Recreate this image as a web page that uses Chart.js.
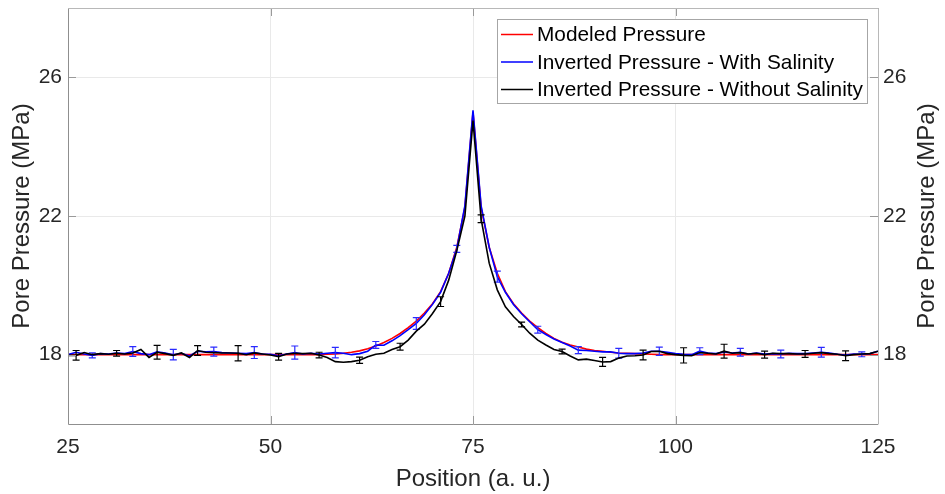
<!DOCTYPE html>
<html>
<head>
<meta charset="utf-8">
<script src="https://cdn.jsdelivr.net/npm/chart.js@4/dist/chart.umd.min.js"></script>
<style>
  html, body { margin: 0; padding: 0; background: #fff; }
  #wrap { width: 945px; height: 494px; }
</style>
</head>
<body>
<div id="wrap"><canvas id="c" width="945" height="494"></canvas></div>
<script>
// ---- Data ----
const positions = [25,26,27,28,29,30,31,32,33,34,35,36,37,38,39,40,41,42,43,44,45,46,47,48,49,50,
  51,52,53,54,55,56,57,58,59,60,61,62,63,64,65,66,67,68,69,70,71,72,73,74,75,
  76,77,78,79,80,81,82,83,84,85,86,87,88,89,90,91,92,93,94,95,96,97,98,99,100,
  101,102,103,104,105,106,107,108,109,110,111,112,113,114,115,116,117,118,119,120,121,122,123,124,125];

const modeledPressure = [18.00,18.00,18.00,18.00,18.00,18.00,18.00,18.00,18.00,18.00,18.00,18.00,18.00,18.00,18.00,18.00,18.00,18.00,18.00,18.00,18.00,18.00,18.00,18.00,18.00,18.00,
  18.00,18.00,18.00,18.00,18.00,18.00,18.01,18.02,18.04,18.07,18.11,18.17,18.25,18.35,18.47,18.61,18.78,18.97,19.20,19.47,19.82,20.35,21.10,22.25,25.00,
  22.25,21.10,20.35,19.82,19.47,19.20,18.97,18.78,18.61,18.47,18.36,18.28,18.22,18.16,18.12,18.10,18.07,18.05,18.04,18.03,18.02,18.01,18.00,18.00,18.00,
  18.00,18.00,18.00,18.00,18.00,18.00,18.00,18.00,18.00,18.00,18.00,18.00,18.00,18.00,18.00,18.00,18.00,18.00,18.00,18.00,18.00,18.00,18.00,18.00,18.00];

const withSalinity = [18.00,18.07,18.02,17.98,18.03,18.02,18.05,18.03,18.09,18.03,18.00,18.08,18.05,18.00,18.04,17.96,18.10,18.08,18.09,18.06,18.05,18.04,18.03,18.06,18.02,18.01,
  17.97,18.02,18.06,18.02,18.04,18.02,18.04,18.06,18.04,18.00,18.03,18.10,18.28,18.27,18.40,18.55,18.72,18.90,19.15,19.45,19.80,20.35,21.05,22.30,25.05,
  22.30,21.10,20.25,19.80,19.45,19.18,18.95,18.72,18.58,18.45,18.35,18.25,18.13,18.12,18.10,18.08,18.08,18.04,18.03,18.03,18.05,18.10,18.10,18.07,18.03,
  18.01,18.00,18.10,18.05,18.03,18.08,18.05,18.07,18.02,18.05,18.02,18.03,18.02,18.04,18.03,18.03,18.05,18.07,18.05,18.01,17.99,18.02,18.01,18.03,18.10];

const withoutSalinity = [17.98,17.98,18.06,18.00,18.03,18.01,18.04,18.02,18.05,18.15,17.92,18.07,18.03,17.98,18.05,17.92,18.12,18.07,18.06,18.05,18.05,18.04,18.00,18.05,18.02,17.99,
  17.94,18.02,18.04,18.03,18.04,17.99,17.92,17.80,17.78,17.80,17.84,17.94,18.01,18.04,18.15,18.23,18.42,18.68,18.88,19.19,19.53,20.15,21.00,22.00,24.75,
  21.92,20.64,19.87,19.38,19.10,18.87,18.62,18.42,18.28,18.15,18.09,17.96,17.85,17.87,17.83,17.79,17.80,17.90,17.96,17.97,17.99,18.09,18.10,18.03,18.00,
  17.98,17.97,18.06,18.04,18.02,18.10,18.04,18.06,18.02,18.04,18.00,18.04,18.03,18.03,18.02,18.02,18.04,18.06,18.03,18.01,17.97,18.00,18.02,18.03,18.10];

// error bars: positions and half-lengths
const withSalinityErrPos = [28,33,38,43,48,53,58,63,68,73,78,83,88,93,98,103,108,113,118,123];
const withSalinityErr    = [0.07,0.14,0.15,0.13,0.17,0.19,0.15,0.10,0.17,0.10,0.16,0.10,0.10,0.14,0.12,0.10,0.11,0.11,0.14,0.07];
const withoutSalinityErrPos = [26,31,36,41,46,51,56,61,66,71,76,81,86,91,96,101,106,111,116,121];
const withoutSalinityErr    = [0.14,0.08,0.20,0.14,0.22,0.10,0.08,0.09,0.10,0.14,0.11,0.07,0.07,0.13,0.14,0.22,0.20,0.10,0.10,0.14];

const xTicks = [25, 50, 75, 100, 125];
const yTicks = [18, 22, 26];
const seriesNames = ['Modeled Pressure', 'Inverted Pressure - With Salinity', 'Inverted Pressure - Without Salinity'];
const xTitle = 'Position (a. u.)';
const yTitle = 'Pore Pressure (MPa)';

// ---- Styling ----
const FONT = 'Arial, "Liberation Sans", Helvetica, sans-serif';
const colors = ['#ff0000', '#0000ff', '#000000'];
const errColors = [null, '#2a2aff', '#000000'];
const gridColor = '#e9e9e9';
const textColor = '#262626';

function pts(vals) { return positions.map((p, i) => ({x: p, y: vals[i]})); }

const errInfo = {
  1: {pos: withSalinityErrPos, err: withSalinityErr, vals: withSalinity},
  2: {pos: withoutSalinityErrPos, err: withoutSalinityErr, vals: withoutSalinity}
};

const errorBarPlugin = {
  id: 'errorBars',
  afterDatasetDraw(chart, args) {
    const info = errInfo[args.index];
    if (!info) return;
    const {ctx, chartArea, scales} = chart;
    ctx.save();
    ctx.beginPath();
    ctx.rect(chartArea.left, chartArea.top, chartArea.right - chartArea.left, chartArea.bottom - chartArea.top);
    ctx.clip();
    ctx.strokeStyle = errColors[args.index];
    ctx.lineWidth = 1.2;
    info.pos.forEach((p, k) => {
      const v = info.vals[positions.indexOf(p)];
      const x = scales.x.getPixelForValue(p);
      const y1 = scales.y.getPixelForValue(v - info.err[k]);
      const y2 = scales.y.getPixelForValue(v + info.err[k]);
      ctx.beginPath();
      ctx.moveTo(x, y1); ctx.lineTo(x, y2);
      ctx.moveTo(x - 3.5, y1); ctx.lineTo(x + 3.5, y1);
      ctx.moveTo(x - 3.5, y2); ctx.lineTo(x + 3.5, y2);
      ctx.stroke();
    });
    ctx.restore();
  }
};

const framePlugin = {
  id: 'frame',
  afterDraw(chart) {
    const {ctx, chartArea: a, scales} = chart;
    ctx.save();
    // inward ticks
    ctx.lineWidth = 1;
    ctx.strokeStyle = '#9a9a9a';
    ctx.beginPath();
    xTicks.forEach(t => {
      const x = Math.round(scales.x.getPixelForValue(t)) + 0.5;
      ctx.moveTo(x, a.bottom); ctx.lineTo(x, a.bottom - 8);
      ctx.moveTo(x, a.top); ctx.lineTo(x, a.top + 8);
    });
    yTicks.forEach(t => {
      const y = Math.round(scales.y.getPixelForValue(t)) + 0.5;
      ctx.moveTo(a.left, y); ctx.lineTo(a.left + 8, y);
      ctx.moveTo(a.right, y); ctx.lineTo(a.right - 8, y);
    });
    ctx.stroke();
    // box
    ctx.strokeStyle = '#8f8f8f';
    ctx.beginPath();
    ctx.moveTo(Math.round(a.left) + 0.5, Math.round(a.top));
    ctx.lineTo(Math.round(a.left) + 0.5, Math.round(a.bottom) + 0.5);
    ctx.lineTo(Math.round(a.right), Math.round(a.bottom) + 0.5);
    ctx.stroke();
    ctx.strokeStyle = '#b8b8b8';
    ctx.beginPath();
    ctx.moveTo(Math.round(a.left), Math.round(a.top) + 0.5);
    ctx.lineTo(Math.round(a.right) + 0.5, Math.round(a.top) + 0.5);
    ctx.lineTo(Math.round(a.right) + 0.5, Math.round(a.bottom) + 0.5);
    ctx.stroke();

    // right axis title
    ctx.fillStyle = textColor;
    ctx.font = '24px ' + FONT;
    ctx.textAlign = 'center';
    ctx.textBaseline = 'middle';
    ctx.translate(927, (a.top + a.bottom) / 2);
    ctx.rotate(-Math.PI / 2);
    ctx.fillText(yTitle, 0, 0);
    ctx.restore();

    // legend
    ctx.save();
    const lx = 497.5, ly = 19.5, lw = 370, lh = 84;
    ctx.fillStyle = '#ffffff';
    ctx.fillRect(lx, ly, lw, lh);
    ctx.strokeStyle = '#a6a6a6';
    ctx.lineWidth = 1;
    ctx.strokeRect(lx, ly, lw, lh);
    ctx.font = '20.8px ' + FONT;
    ctx.textAlign = 'left';
    ctx.textBaseline = 'middle';
    seriesNames.forEach((name, i) => {
      const cy = 34.5 + i * 27.5;
      ctx.strokeStyle = colors[i];
      ctx.lineWidth = 1.5;
      ctx.beginPath();
      ctx.moveTo(501, cy); ctx.lineTo(533, cy);
      ctx.stroke();
      ctx.fillStyle = '#000000';
      ctx.fillText(name, 537, cy + 1);
    });
    ctx.restore();
  }
};

const tickFont = {family: FONT, size: 21};
const titleFont = {family: FONT, size: 24};

function noPad(s) { s.paddingTop = 0; s.paddingBottom = 0; }

new Chart(document.getElementById('c'), {
  type: 'line',
  data: {
    datasets: [
      {label: seriesNames[0], data: pts(modeledPressure), borderColor: colors[0], borderWidth: 1.6, pointRadius: 0, tension: 0, order: 2},
      {label: seriesNames[1], data: pts(withSalinity), borderColor: colors[1], borderWidth: 1.6, pointRadius: 0, tension: 0, order: 1},
      {label: seriesNames[2], data: pts(withoutSalinity), borderColor: colors[2], borderWidth: 1.6, pointRadius: 0, tension: 0, order: 0}
    ]
  },
  options: {
    responsive: false,
    animation: false,
    layout: {padding: {top: 8, left: 0, right: 0, bottom: 0}},
    plugins: {legend: {display: false}, tooltip: {enabled: false}},
    scales: {
      x: {
        type: 'linear', position: 'bottom', min: 25, max: 125,
        afterBuildTicks: s => { s.ticks = xTicks.map(v => ({value: v})); },
        afterFit: s => { s.height = 70; s.paddingLeft = 0; s.paddingRight = 0; },
        grid: {color: gridColor, drawTicks: false},
        border: {display: false},
        ticks: {font: tickFont, color: textColor, padding: 11, maxRotation: 0, autoSkip: false},
        title: {display: true, text: xTitle, font: titleFont, color: textColor, padding: {top: 0, bottom: 0}}
      },
      y: {
        type: 'linear', position: 'left', min: 16, max: 28,
        afterBuildTicks: s => { s.ticks = yTicks.map(v => ({value: v})); },
        afterFit: s => { s.width = 68; noPad(s); },
        grid: {color: gridColor, drawTicks: false},
        border: {display: false},
        ticks: {font: tickFont, color: textColor, padding: 6},
        title: {display: true, text: yTitle, font: titleFont, color: textColor, padding: {top: 8, bottom: 0}}
      },
      y2: {
        type: 'linear', position: 'right', min: 16, max: 28,
        afterBuildTicks: s => { s.ticks = yTicks.map(v => ({value: v})); },
        afterFit: s => { s.width = 67; noPad(s); },
        grid: {display: false, drawTicks: false},
        border: {display: false},
        ticks: {font: tickFont, color: textColor, padding: 5}
      }
    }
  },
  plugins: [errorBarPlugin, framePlugin]
});
</script>
</body>
</html>
